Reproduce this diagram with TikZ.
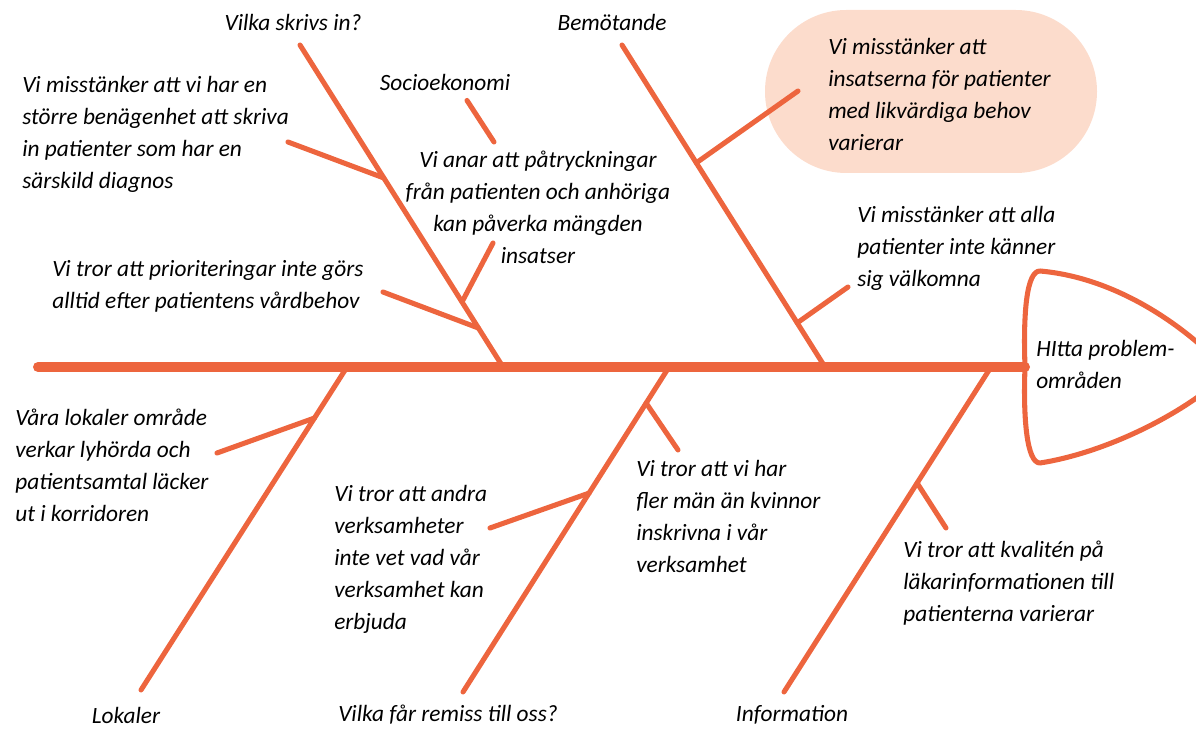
\documentclass[tikz,border=0pt]{standalone}
\usepackage{fontspec}
\setmainfont{Carlito}
\usetikzlibrary{calc,positioning}
\definecolor{fishorange}{RGB}{237,101,62}
\definecolor{pillpink}{RGB}{252,220,204}

\begin{document}
\begin{tikzpicture}[x=0.75pt,y=-0.75pt,
  bone/.style={draw=fishorange,line width=3.8pt,line cap=round},
  spine/.style={bone,line width=7.5pt},
  note/.style={align=left,anchor=north west,inner sep=0pt,font=\fontsize{17.5}{24}\selectfont\itshape},
  cause/.style={inner sep=0pt,font=\fontsize{17.5}{24}\selectfont\itshape}]
\useasboundingbox (0,0) rectangle (1196,731);

% pill behind everything
\fill[pillpink,rounded corners=61pt] (765,10) rectangle (1097,173);

% spine and head
\coordinate (tail) at (38,367);
\coordinate (neck) at (1025,367);
\draw[spine] (tail) -- (neck);
\begin{scope}
\clip (0,0) rectangle (1196,731);
\draw[bone,line join=round] (1040,271) .. controls (1120,278) and (1190,330) .. (1228,372)
  .. controls (1190,410) and (1110,452) .. (1040,463)
  .. controls (1027,463) and (1023,420) .. (neck)
  .. controls (1023,310) and (1027,271) .. (1040,271);
\end{scope}
\node[note] (head) at (1036,340) {HItta problem-\\områden};

% bones
\coordinate (b1top) at (300,45);  \coordinate (b1foot) at (503,367);
\coordinate (b2top) at (622,45);  \coordinate (b2foot) at (825,367);
\coordinate (b3foot) at (347,367); \coordinate (b3end) at (141,690);
\coordinate (b4foot) at (669,367); \coordinate (b4end) at (463,692);
\coordinate (b5foot) at (991,367); \coordinate (b5end) at (784,692);
\draw[bone] (b1top) -- (b1foot);
\draw[bone] (b2top) -- (b2foot);
\draw[bone] (b3foot) -- (b3end);
\draw[bone] (b4foot) -- (b4end);
\draw[bone] (b5foot) -- (b5end);

\node[cause] (skriv) at (293,22) {Vilka skrivs in?};
\node[cause] (bemot) at (612,22) {Bemötande};
\node[cause] (socio) at (445,82) {Socioekonomi};
\node[cause] (lokal) at (126,715) {Lokaler};
\node[cause] (remiss) at (448,715) {Vilka får remiss till oss?};
\node[cause] (info) at (792,715) {Information};

% notes
\node[note] (diagnos) at (22,76) {Vi misstänker att vi har en\\större benägenhet att skriva\\in patienter som har en\\särskild diagnos};
\node[note,anchor=north,align=center] (anar) at (538,151) {Vi anar att påtryckningar\\från patienten och anhöriga\\kan påverka mängden\\insatser};
\node[note] (prio) at (52,260) {Vi tror att prioriteringar inte görs\\alltid efter patientens vårdbehov};
\node[note] (likv) at (828,38) {Vi misstänker att\\insatserna för patienter\\med likvärdiga behov\\varierar};
\node[note] (valk) at (857,206) {Vi misstänker att alla\\patienter inte känner\\sig välkomna};
\node[note] (lyhord) at (15,409) {Våra lokaler område\\verkar lyhörda och\\patientsamtal läcker\\ut i korridoren};
\node[note] (andra) at (334,485) {Vi tror att andra\\verksamheter\\inte vet vad vår\\verksamhet kan\\erbjuda};
\node[note] (man) at (636,460) {Vi tror att vi har\\fler män än kvinnor\\inskrivna i vår\\verksamhet};
\node[note] (kval) at (903,541) {Vi tror att kvalitén på\\läkarinformationen till\\patienterna varierar};

% twigs
\draw[bone] ($(b1top)!0.413!(b1foot)$) -- (288,142);
\draw[bone] ($(b1top)!0.879!(b1foot)$) -- (383,292);
\draw[bone] ($(b1top)!0.798!(b1foot)$) -- (493,243);
\draw[bone] ($(socio.south)+(22,10)$) -- ($(anar.north)+(-44,-9)$);
\draw[bone] ($(b2top)!0.366!(b2foot)$) -- (798,91);
\draw[bone] ($(b2top)!0.863!(b2foot)$) -- (848,287);
\draw[bone] ($(b3foot)!0.158!(b3end)$) -- (217,453);
\draw[bone] ($(b4foot)!0.388!(b4end)$) -- (490,528);
\draw[bone] ($(b4foot)!0.111!(b4end)$) -- (678,450);
\draw[bone] ($(b5foot)!0.357!(b5end)$) -- (946,528);
\end{tikzpicture}
\end{document}
